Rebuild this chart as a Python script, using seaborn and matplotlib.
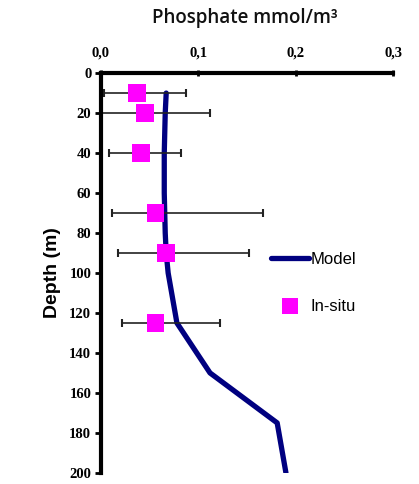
import matplotlib
matplotlib.use("Agg")
import matplotlib.pyplot as plt
import seaborn as sns
import pandas as pd
import numpy as np

# Model profile
model_depth = [10, 20, 40, 60, 80, 90, 100, 125, 150, 175, 200]
model_value = [0.067, 0.066, 0.065, 0.065, 0.066, 0.067, 0.069, 0.078, 0.112, 0.181, 0.190]

# In-situ observations
obs_depth = [10, 20, 40, 70, 90, 125]
obs_value = [0.037, 0.045, 0.041, 0.056, 0.067, 0.056]
obs_low = [0.003, 0.000, 0.008, 0.011, 0.017, 0.022]
obs_high = [0.087, 0.112, 0.082, 0.166, 0.152, 0.122]

x_ticks = [0.0, 0.1, 0.2, 0.3]
x_ticklabels = ["0,0", "0,1", "0,2", "0,3"]
y_ticks = list(range(0, 201, 20))

sns.set_style("white")
plt.rcParams['font.family'] = ['Liberation Sans', 'DejaVu Sans']
plt.rcParams['text.color'] = 'black'
plt.rcParams['axes.labelcolor'] = 'black'
plt.rcParams['xtick.color'] = 'black'
plt.rcParams['ytick.color'] = 'black'

fig = plt.figure(figsize=(4.19, 4.84), dpi=100)
ax = fig.add_axes([0.241, 0.023, 0.697, 0.826])

model_df = pd.DataFrame({"depth": model_depth, "value": model_value})
obs_df = pd.DataFrame({"depth": obs_depth, "value": obs_value})

sns.lineplot(data=model_df, x="value", y="depth", sort=False, estimator=None,
             color="#000080", linewidth=3.8, ax=ax, label="Model",
             solid_capstyle="round")
xerr = np.array([np.array(obs_value) - np.array(obs_low),
                 np.array(obs_high) - np.array(obs_value)])
ax.errorbar(obs_value, obs_depth, xerr=xerr, fmt="none", ecolor="#222222",
            elinewidth=1.2, capsize=3, capthick=1.5, zorder=2)
sns.scatterplot(data=obs_df, x="value", y="depth", marker="s", s=160,
                color="#FF00FF", edgecolor="none", ax=ax, label="In-situ", zorder=4)

ax.set_xlim(0, 0.3)
ax.set_ylim(200, 0)
ax.xaxis.tick_top()
ax.set_xticks(x_ticks)
ax.set_xticklabels(x_ticklabels, family="Liberation Serif", fontweight="bold", fontsize=10.5)
ax.set_yticks(y_ticks)
ax.set_yticklabels([str(v) for v in y_ticks], family="Liberation Serif", fontweight="bold", fontsize=10.5)
ax.tick_params(axis="x", direction="inout", length=5, width=2, pad=7, top=True, bottom=False)
ax.tick_params(axis="y", direction="out", length=4, width=2, pad=3, left=True)
ax.set_xlabel("")
ax.set_ylabel("Depth (m)", fontsize=14, fontweight="bold", labelpad=6)

for side in ["right", "bottom"]:
    ax.spines[side].set_visible(False)
for side in ["left", "top"]:
    ax.spines[side].set_linewidth(3)
    ax.spines[side].set_color("black")

fig.text(0.585, 0.962, "Phosphate mmol/m\u00b3", ha="center", va="center",
         fontsize=13.5, family="Open Sans", fontweight="semibold", color="#111111")

leg = ax.legend(loc="upper left", bbox_to_anchor=(0.53, 0.59), frameon=False,
                fontsize=12, labelspacing=1.9, handlelength=2.3, handletextpad=0.1,
                markerscale=0.9)
for t in leg.get_texts():
    t.set_color("black")

fig.savefig("out.png", dpi=100)
